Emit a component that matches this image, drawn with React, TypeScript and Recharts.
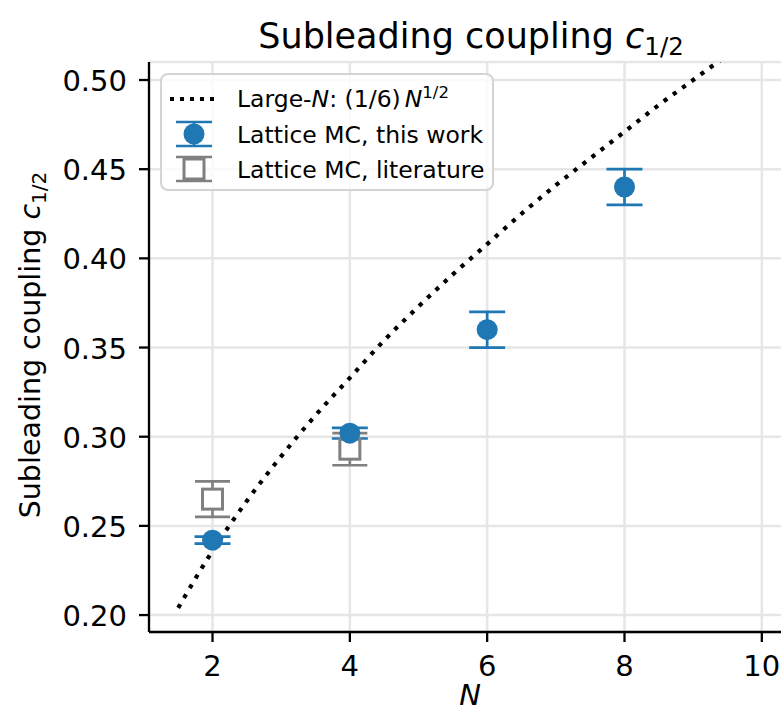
import React from 'react';
import { ComposedChart, Line, Scatter, ErrorBar, XAxis, YAxis, CartesianGrid } from 'recharts';

// Curva de gran N
const N_CURVE = [1.5, 2, 2.5, 3, 3.5, 4, 4.5, 5, 5.5, 6, 6.5, 7, 7.5, 8, 8.5, 9, 9.5, 10];
const C_CURVE = [0.204, 0.236, 0.264, 0.289, 0.312, 0.333, 0.354, 0.373, 0.391, 0.408, 0.425, 0.441, 0.456, 0.471, 0.486, 0.5, 0.514, 0.527];

// Lattice MC, this work
const N_THIS = [2, 4, 6, 8];
const C_THIS = [0.242, 0.302, 0.36, 0.44];
const ERR_THIS = [0.002, 0.003, 0.01, 0.01];

// Lattice MC, literature
const N_LIT = [2, 4];
const C_LIT = [0.265, 0.293];
const ERR_LIT = [0.01, 0.009];

const X_TICKS = [2, 4, 6, 8, 10];
const Y_TICKS = [0.2, 0.25, 0.3, 0.35, 0.4, 0.45, 0.5];

const curveData = N_CURVE.map((N, i) => ({ N, c: C_CURVE[i] }));
const thisData = N_THIS.map((N, i) => ({ N, c: C_THIS[i], err: ERR_THIS[i] }));
const litData = N_LIT.map((N, i) => ({ N, c: C_LIT[i], err: ERR_LIT[i] }));

const BLUE = '#1f77b4';
const GRAY = '#808080';
const FONT = '"DejaVu Sans", sans-serif';
const AXIS = { stroke: '#000', strokeWidth: 2.3 };

const BlueDot = (props: any) => <circle cx={props.cx} cy={props.cy} r={10.5} fill={BLUE} />;

const OpenSquare = (props: any) => (
  <rect x={props.cx - 10} y={props.cy - 10} width={20} height={20} fill="#fff" stroke={GRAY} strokeWidth={3} />
);

const XTick = (props: any) => (
  <text x={props.x} y={props.y + 34} textAnchor="middle" fontSize={29} fontFamily={FONT} fill="#000">
    {props.payload.value}
  </text>
);

const YTick = (props: any) => (
  <text x={props.x} y={props.y + 11} textAnchor="end" fontSize={29} fontFamily={FONT} fill="#000">
    {Number(props.payload.value).toFixed(2)}
  </text>
);

function Overlay() {
  return (
    <svg width={781} height={714} style={{ position: 'absolute', left: 0, top: 0, pointerEvents: 'none' }} fontFamily={FONT}>
      {/* título */}
      <text x={471} y={48} textAnchor="middle" fontSize={35}>
        Subleading coupling <tspan fontStyle="italic">c</tspan>
        <tspan fontSize={24.5} dy={7}>1/2</tspan>
      </text>
      {/* eje y */}
      <text x={40} y={345} transform="rotate(-90, 40, 345)" textAnchor="middle" fontSize={28.5}>
        Subleading coupling <tspan fontStyle="italic">c</tspan>
        <tspan fontSize={20} dy={6}>1/2</tspan>
      </text>
      {/* eje x */}
      <text x={470} y={705} textAnchor="middle" fontSize={29} fontStyle="italic">N</text>

      {/* leyenda */}
      <rect x={161} y={74} width={332} height={116} rx={7} fill="#fff" fillOpacity={0.8} stroke="#d4d4d4" strokeWidth={2} />
      <line x1={170} y1={99} x2={217} y2={99} stroke="#000" strokeWidth={4} strokeDasharray="4 6" />
      <text x={237} y={106.5} fontSize={23.5}>
        Large-<tspan fontStyle="italic">N</tspan>: (1/6)<tspan dx={4} fontStyle="italic">N</tspan>
        <tspan fontSize={16.5} dy={-9}>1/2</tspan>
      </text>

      <line x1={176} y1={122} x2={212} y2={122} stroke={BLUE} strokeWidth={2.7} />
      <line x1={176} y1={146} x2={212} y2={146} stroke={BLUE} strokeWidth={2.7} />
      <line x1={194} y1={122} x2={194} y2={146} stroke={BLUE} strokeWidth={2.7} />
      <circle cx={194} cy={134} r={10.5} fill={BLUE} />
      <text x={237} y={142.5} fontSize={23.5}>Lattice MC, this work</text>

      <line x1={176} y1={157} x2={212} y2={157} stroke={GRAY} strokeWidth={2.7} />
      <line x1={176} y1={181} x2={212} y2={181} stroke={GRAY} strokeWidth={2.7} />
      <line x1={194} y1={157} x2={194} y2={181} stroke={GRAY} strokeWidth={2.7} />
      <rect x={184} y={159} width={20} height={20} fill="#fff" stroke={GRAY} strokeWidth={3} />
      <text x={237} y={177.5} fontSize={23.5}>Lattice MC, literature</text>
    </svg>
  );
}

export default function App() {
  return (
    <div style={{ position: 'relative', width: 781, height: 714, overflow: 'hidden', background: '#fff' }}>
      <style>{'html,body{margin:0;padding:0;overflow:hidden;background:#fff}'}</style>
      <ComposedChart width={820} height={714} margin={{ top: 62, right: 29, bottom: 0, left: 0 }}>
        <CartesianGrid stroke="#e6e6e6" strokeWidth={2.5} />
        <XAxis
          type="number"
          dataKey="N"
          domain={[1.075, 10.425]}
          ticks={X_TICKS}
          interval={0}
          allowDataOverflow
          height={82}
          tickSize={10}
          tickMargin={0}
          tick={<XTick />}
          axisLine={AXIS}
          tickLine={AXIS}
        />
        <XAxis
          xAxisId="top"
          orientation="top"
          type="number"
          domain={[1.075, 10.425]}
          allowDataOverflow
          height={0}
          tick={false}
          tickLine={false}
          axisLine={AXIS}
        />
        <YAxis
          type="number"
          domain={[0.1905, 0.5101]}
          ticks={Y_TICKS}
          interval={0}
          allowDataOverflow
          width={149}
          tickSize={10}
          tickMargin={12}
          tick={<YTick />}
          axisLine={AXIS}
          tickLine={AXIS}
        />
        <Line
          data={curveData}
          dataKey="c"
          type="monotone"
          stroke="#000"
          strokeWidth={4.2}
          strokeDasharray="4.2 7.2"
          dot={false}
          activeDot={false}
          isAnimationActive={false}
        />
        <Scatter data={litData} dataKey="c" shape={OpenSquare} isAnimationActive={false}>
          <ErrorBar dataKey="err" direction="y" width={17.5} stroke={GRAY} strokeWidth={2.7} isAnimationActive={false} />
        </Scatter>
        <Scatter data={thisData} dataKey="c" shape={BlueDot} isAnimationActive={false}>
          <ErrorBar dataKey="err" direction="y" width={18} stroke={BLUE} strokeWidth={2.7} isAnimationActive={false} />
        </Scatter>
      </ComposedChart>
      <Overlay />
    </div>
  );
}
